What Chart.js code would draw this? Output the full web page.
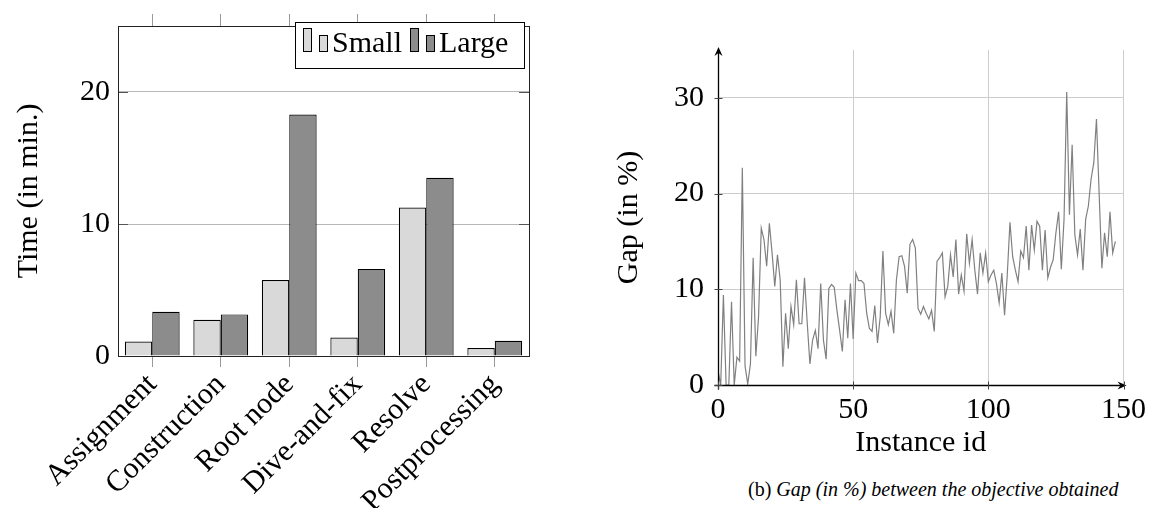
<!DOCTYPE html>
<html>
<head>
<meta charset="utf-8">
<script src="https://cdn.jsdelivr.net/npm/chart.js@4.4.1/dist/chart.umd.min.js"></script>
<style>
body { margin: 0; background: #fff; width: 1153px; height: 508px; overflow: hidden; position: relative; }
#timeChart { position: absolute; left: 0; top: 0; }
#gapChart { position: absolute; left: 580px; top: 0; }
#caption { position: absolute; left: 748px; top: 478px; font-family: "Liberation Serif", "DejaVu Serif", serif; font-size: 20px; white-space: nowrap; color: #000; }
#caption i { font-family: "Liberation Serif", "DejaVu Serif", serif; font-style: italic; }
</style>
</head>
<body>
<canvas id="timeChart" width="560" height="508"></canvas>
<canvas id="gapChart" width="573" height="465"></canvas>
<div id="caption">(b) <i>Gap (in %) between the objective obtained</i></div>
<script>
// left chart: time per phase
const phases = ['Assignment', 'Construction', 'Root node', 'Dive-and-fix', 'Resolve', 'Postprocessing'];
const seriesNames = ['Small', 'Large'];
const smallTimes = [1.1, 2.75, 5.75, 1.4, 11.25, 0.6];
const largeTimes = [3.35, 3.15, 18.3, 6.6, 13.5, 1.15];
const timeTicks = [0, 10, 20];

// right chart: gap per instance (instance id = position in the list)
const gapValues = [
  1.5, 0, 9.4, 0, 0, 8.7, 0, 2.9, 2.5, 22.7,
  2.0, 0.1, 2.2, 13.3, 3.0, 7.1, 16.4, 15.2, 12.4, 16.9,
  13.8, 10.3, 13.6, 11.0, 1.9, 7.5, 3.8, 8.2, 6.3, 11.0,
  6.4, 6.4, 11.2, 6.5, 2.2, 4.7, 5.7, 3.8, 10.6, 4.7,
  2.7, 10.1, 10.5, 10.2, 7.8, 5.7, 3.5, 8.9, 4.9, 10.6,
  4.8, 11.7, 10.9, 10.9, 10.6, 7.5, 5.9, 5.6, 8.3, 4.4,
  7.1, 14.0, 7.5, 6.3, 7.7, 5.4, 11.0, 13.4, 13.5, 12.4,
  9.6, 14.7, 15.2, 14.3, 8.0, 7.4, 8.2, 7.5, 6.9, 7.8,
  5.6, 12.9, 13.3, 13.8, 9.2, 10.3, 13.6, 11.3, 15.2, 9.5,
  11.5, 9.8, 15.8, 12.7, 15.2, 12.0, 9.5, 13.8, 11.7, 13.8,
  10.8, 11.5, 12.0, 10.6, 8.6, 11.7, 7.3, 11.5, 17.0, 13.4,
  12.0, 10.8, 14.0, 13.3, 16.6, 12.0, 16.7, 14.1, 17.1, 16.6,
  12.0, 16.2, 11.2, 12.3, 13.1, 15.9, 18.1, 12.1, 17.3, 30.6,
  17.8, 25.1, 15.7, 13.6, 16.3, 12.0, 17.3, 18.7, 21.5, 23.2,
  27.8, 19.9, 12.2, 15.9, 13.4, 18.1, 13.8, 15.0
];
const gapTicksX = [0, 50, 100, 150];
const gapTicksY = [0, 10, 20, 30];

const smallColor = '#d9d9d9';
const largeColor = '#8c8c8c';
const labelFont = { family: 'Liberation Serif', size: 30 };

Chart.defaults.font.family = 'Liberation Serif';
Chart.defaults.color = '#000';

function setTicks(values) {
  return function (scale) {
    scale.ticks = values.map(v => ({ value: v }));
  };
}

// frame round the bar plot, with small inner tick marks on y
const frameBox = {
  id: 'frameBox',
  afterDatasetsDraw(chart) {
    const a = chart.chartArea;
    const ctx = chart.ctx;
    const y = chart.scales.y;
    ctx.save();
    ctx.strokeStyle = '#555';
    ctx.lineWidth = 1;
    timeTicks.forEach(v => {
      if (v === 0) return;
      const py = Math.round(y.getPixelForValue(v)) + 0.5;
      ctx.beginPath();
      ctx.moveTo(a.left, py); ctx.lineTo(a.left + 10, py);
      ctx.moveTo(a.right - 10, py); ctx.lineTo(a.right, py);
      ctx.stroke();
    });
    ctx.strokeStyle = '#222';
    ctx.strokeRect(Math.round(a.left) + 0.5, Math.round(a.top) + 0.5,
      Math.round(a.right - a.left), Math.round(a.bottom - a.top));
    ctx.restore();
  }
};

// pgfplots style legend: two little bars per entry
const timeLegend = {
  id: 'timeLegend',
  afterDraw(chart) {
    const ctx = chart.ctx;
    ctx.save();
    ctx.fillStyle = '#fff';
    ctx.fillRect(295, 22, 229, 46);
    ctx.strokeStyle = '#000';
    ctx.lineWidth = 1;
    ctx.strokeRect(295.5, 22.5, 229, 46);
    const entries = [
      { x: 303, label: seriesNames[0], fill: smallColor },
      { x: 410, label: seriesNames[1], fill: largeColor }
    ];
    entries.forEach(e => {
      ctx.fillStyle = e.fill;
      ctx.strokeStyle = '#000';
      ctx.fillRect(e.x + 0.5, 28.5, 8, 23);
      ctx.strokeRect(e.x + 0.5, 28.5, 8, 23);
      ctx.fillRect(e.x + 16.5, 35.5, 8, 16);
      ctx.strokeRect(e.x + 16.5, 35.5, 8, 16);
      ctx.fillStyle = '#000';
      ctx.font = '30px "Liberation Serif"';
      ctx.textBaseline = 'alphabetic';
      ctx.textAlign = 'left';
      ctx.fillText(e.label, e.x + 29, 52);
    });
    ctx.restore();
  }
};

new Chart(document.getElementById('timeChart'), {
  type: 'bar',
  data: {
    labels: phases,
    datasets: [
      { label: seriesNames[0], data: smallTimes, backgroundColor: smallColor, borderColor: '#000', borderWidth: 1.2 },
      { label: seriesNames[1], data: largeTimes, backgroundColor: largeColor, borderColor: '#000', borderWidth: 1.2 }
    ]
  },
  options: {
    responsive: false,
    animation: false,
    layout: { padding: { left: 0, right: 31, top: 10, bottom: 0 } },
    plugins: { legend: { display: false }, tooltip: { enabled: false } },
    datasets: { bar: { categoryPercentage: 0.8, barPercentage: 1.0 } },
    scales: {
      x: {
        position: 'bottom',
        offset: true,
        grid: { offset: false, drawOnChartArea: false, drawTicks: true, tickLength: 11, color: '#999' },
        border: { display: false },
        ticks: { font: labelFont, color: '#000', minRotation: 45, maxRotation: 45, autoSkip: false, padding: 0 },
        afterFit(s) { s.height = 152; }
      },
      xTop: {
        type: 'category',
        position: 'top',
        offset: true,
        grid: { offset: false, drawOnChartArea: false, drawTicks: true, tickLength: 12, color: '#999' },
        border: { display: false },
        ticks: { display: false },
        afterFit(s) { s.height = 12; }
      },
      y: {
        min: 0,
        max: 25,
        afterBuildTicks: setTicks(timeTicks),
        grid: { drawTicks: false, color: ctx => ctx.tick.value === 0 ? 'transparent' : '#b8b8b8' },
        border: { display: false },
        ticks: { font: labelFont, color: '#000', padding: 8 },
        title: { display: true, text: 'Time (in min.)', font: labelFont, color: '#000', padding: { top: 11, bottom: 0 } },
        afterFit(s) { s.width = 118; }
      }
    }
  },
  plugins: [frameBox, timeLegend]
});

// axis lines with arrow heads and small tick marks
const arrowAxes = {
  id: 'arrowAxes',
  afterDatasetsDraw(chart) {
    const a = chart.chartArea;
    const ctx = chart.ctx;
    const x = chart.scales.x, y = chart.scales.y;
    const left = Math.round(a.left) + 0.5;
    const bottom = Math.round(a.bottom) + 0.5;
    ctx.save();
    ctx.strokeStyle = '#000';
    ctx.fillStyle = '#000';
    ctx.lineWidth = 1.3;
    ctx.beginPath();
    ctx.moveTo(left, bottom + 4); ctx.lineTo(left, a.top + 2);
    ctx.moveTo(left - 4, bottom); ctx.lineTo(a.right - 2, bottom);
    ctx.stroke();
    // arrow heads
    ctx.beginPath();
    ctx.moveTo(left, a.top - 3);
    ctx.lineTo(left - 4, a.top + 6);
    ctx.lineTo(left, a.top + 3);
    ctx.lineTo(left + 4, a.top + 6);
    ctx.closePath();
    ctx.fill();
    ctx.beginPath();
    ctx.moveTo(a.right + 3, bottom);
    ctx.lineTo(a.right - 6, bottom - 4);
    ctx.lineTo(a.right - 3, bottom);
    ctx.lineTo(a.right - 6, bottom + 4);
    ctx.closePath();
    ctx.fill();
    ctx.lineWidth = 1;
    ctx.strokeStyle = '#444';
    gapTicksX.forEach(v => {
      const px = Math.round(x.getPixelForValue(v)) + 0.5;
      ctx.beginPath(); ctx.moveTo(px, bottom - 4); ctx.lineTo(px, bottom + 4); ctx.stroke();
    });
    gapTicksY.forEach(v => {
      const py = Math.round(y.getPixelForValue(v)) + 0.5;
      ctx.beginPath(); ctx.moveTo(left - 4, py); ctx.lineTo(left + 4, py); ctx.stroke();
    });
    ctx.restore();
  }
};

new Chart(document.getElementById('gapChart'), {
  type: 'line',
  data: {
    datasets: [{
      label: 'Gap',
      data: gapValues.map((v, i) => ({ x: i, y: v })),
      borderColor: '#808080',
      borderWidth: 1.2,
      pointRadius: 0,
      tension: 0,
      fill: false
    }]
  },
  options: {
    responsive: false,
    animation: false,
    layout: { padding: { left: 0, right: 23.5, top: 50, bottom: 0 } },
    plugins: { legend: { display: false }, tooltip: { enabled: false } },
    scales: {
      x: {
        type: 'linear',
        min: 0,
        max: 150,
        afterBuildTicks: setTicks(gapTicksX),
        grid: { drawTicks: false, color: ctx => ctx.tick.value === 0 ? 'transparent' : '#cccccc' },
        border: { display: false },
        ticks: { font: labelFont, color: '#000', padding: 7 },
        title: { display: true, text: 'Instance id', font: labelFont, color: '#000', padding: { top: 0, bottom: 4 } },
        afterFit(s) { s.height = 80; }
      },
      y: {
        min: 0,
        max: 35,
        afterBuildTicks: setTicks(gapTicksY),
        grid: { drawTicks: false, color: ctx => ctx.tick.value === 0 ? 'transparent' : '#cccccc' },
        border: { display: false },
        ticks: { font: labelFont, color: '#000', padding: 14 },
        title: { display: true, text: 'Gap (in %)', font: labelFont, color: '#000', padding: { top: 31, bottom: 0 } },
        afterFit(s) { s.width = 138; }
      }
    }
  },
  plugins: [arrowAxes]
});
</script>
</body>
</html>
